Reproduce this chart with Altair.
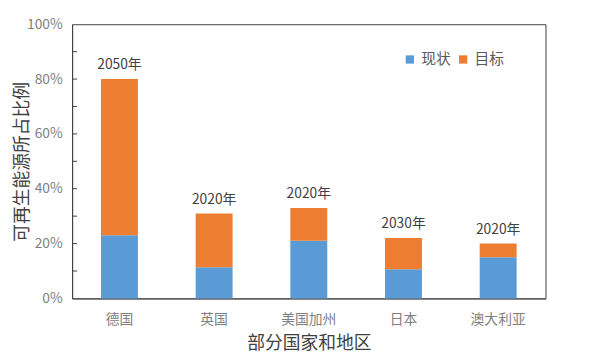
import altair as alt
import pandas as pd

regions = ["德国", "英国", "美国加州", "日本", "澳大利亚"]
current = [0.23, 0.114, 0.21, 0.106, 0.15]
target = [0.80, 0.31, 0.33, 0.22, 0.20]
years = ["2050年", "2020年", "2020年", "2030年", "2020年"]
minor_ticks = [0.1, 0.2, 0.3, 0.4, 0.5, 0.6, 0.7, 0.8, 0.9]

FONT = "Noto Sans CJK SC"
LINE = "#404040"

rows = []
for r, c, t in zip(regions, current, target):
    rows.append({"region": r, "series": "现状", "value": c, "ord": 0})
    rows.append({"region": r, "series": "目标", "value": t - c, "ord": 1})
df = pd.DataFrame(rows)
df_lab = pd.DataFrame({"region": regions, "total": target, "year": years})
df_ticks = pd.DataFrame({"t": minor_ticks})

xscale = alt.Scale(domain=regions, paddingInner=0.61, paddingOuter=0.305)
yscale = alt.Scale(domain=[0, 1], nice=False)

bars = alt.Chart(df).mark_bar().encode(
    x=alt.X("region:N", scale=xscale, sort=regions,
            axis=alt.Axis(title="部分国家和地区", labelAngle=0, ticks=False, domain=True,
                          domainColor=LINE, domainWidth=1,
                          labelFontSize=14, labelColor="#808080", labelPadding=14,
                          titleFontSize=18, titleColor="#404040", titleFontWeight="normal",
                          titleX=240, titleY=46, titleBaseline="middle",
                          labelFont=FONT, titleFont=FONT)),
    y=alt.Y("value:Q", scale=yscale, stack="zero",
            axis=alt.Axis(title="可再生能源所占比例", format=".0%",
                          values=[0, 0.2, 0.4, 0.6, 0.8, 1.0], ticks=False, grid=False,
                          domain=True, domainColor=LINE, domainWidth=1,
                          labelFontSize=14, labelColor="#808080", labelPadding=10,
                          titleFontSize=18, titleColor="#404040", titleFontWeight="normal",
                          titleX=-50, titleY=139, titleBaseline="middle",
                          labelFont=FONT, titleFont=FONT)),
    color=alt.Color("series:N", scale=alt.Scale(domain=["现状", "目标"], range=["#5B9BD5", "#ED7D31"]),
                    legend=alt.Legend(title=None, orient="none", legendX=335, legendY=28,
                                      direction="horizontal", symbolType="square", symbolSize=70,
                                      symbolStrokeWidth=0, labelFontSize=15, labelColor="#595959",
                                      labelFont=FONT, columnPadding=4, symbolOffset=0)),
    order=alt.Order("ord:Q"),
)

labels = alt.Chart(df_lab).mark_text(dy=-14, fontSize=14, color="#404040", font=FONT).encode(
    x=alt.X("region:N", scale=xscale, sort=regions),
    y=alt.Y("total:Q", scale=yscale),
    text="year:N",
)

ticks = alt.Chart(df_ticks).mark_rule(color=LINE, strokeWidth=1).encode(
    x=alt.value(0), x2=alt.value(5),
    y=alt.Y("t:Q", scale=yscale),
)

chart = alt.layer(bars, labels, ticks).properties(
    width=480, height=278,
    autosize=alt.AutoSizeParams(type="none"),
    padding={"left": 65, "top": 14, "right": 36, "bottom": 60},
).configure(font=FONT).configure_view(stroke=LINE, strokeWidth=1)

chart.save("out.html", embed_options={"renderer": "svg", "actions": False})
